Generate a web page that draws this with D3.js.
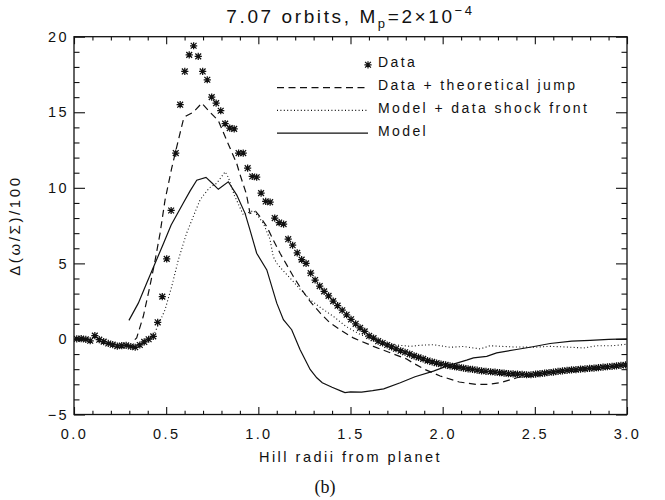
<!DOCTYPE html>
<html>
<head>
<meta charset="utf-8">
<script src="https://cdn.jsdelivr.net/npm/d3@7"></script>
<style>
  body { margin: 0; background: #fff; }
  svg text { font-family: "Liberation Sans", Arial, sans-serif; fill: #111; }
</style>
</head>
<body>
<svg id="chart" width="665" height="500"></svg>
<script>
// ---- Measured profile: asterisk samples ----
const dataX = [0.015,0.039,0.064,0.088,0.113,0.137,0.161,0.186,0.210,0.235,
  0.259,0.283,0.308,0.332,0.357,0.381,0.405,0.430,0.454,0.479,
  0.503,0.527,0.552,0.576,0.601,0.625,0.649,0.674,0.698,0.723,
  0.747,0.771,0.796,0.820,0.845,0.869,0.893,0.918,0.942,0.967,
  0.991,1.015,1.040,1.064,1.089,1.113,1.137,1.162,1.186,1.211,
  1.235,1.259,1.284,1.308,1.333,1.357,1.381,1.406,1.430,1.455,
  1.479,1.503,1.528,1.552,1.577,1.601,1.625,1.650,1.674,1.699,
  1.723,1.747,1.772,1.796,1.821,1.845,1.869,1.894,1.918,1.943,
  1.967,1.991,2.016,2.040,2.065,2.089,2.113,2.138,2.162,2.187,
  2.211,2.235,2.260,2.284,2.309,2.333,2.357,2.382,2.406,2.431,
  2.455,2.479,2.504,2.528,2.553,2.577,2.601,2.626,2.650,2.675,
  2.699,2.723,2.748,2.772,2.797,2.821,2.845,2.870,2.894,2.919,
  2.943,2.967,2.992];
const dataY = [0.0,0.02,-0.03,-0.12,0.22,-0.05,-0.18,-0.3,-0.38,-0.47,
  -0.44,-0.43,-0.5,-0.55,-0.4,-0.2,-0.02,0.17,1.1,2.8,
  5.3,8.5,12.3,15.5,17.7,18.8,19.4,18.7,17.7,17.15,
  16.0,15.6,15.1,14.25,13.95,13.9,12.3,12.3,11.3,10.75,
  10.7,9.65,9.1,9.05,8.0,7.7,7.6,6.6,6.2,5.7,
  5.25,5.0,4.35,3.9,3.5,3.15,2.85,2.5,2.2,1.9,
  1.6,1.3,1.0,0.73,0.5,0.2,0.05,-0.15,-0.27,-0.4,
  -0.53,-0.65,-0.78,-0.88,-1.0,-1.12,-1.22,-1.32,-1.43,-1.52,
  -1.6,-1.66,-1.72,-1.78,-1.83,-1.88,-1.93,-1.98,-2.02,-2.07,
  -2.11,-2.14,-2.17,-2.2,-2.23,-2.26,-2.29,-2.31,-2.33,-2.35,
  -2.37,-2.37,-2.33,-2.3,-2.26,-2.22,-2.19,-2.15,-2.11,-2.08,
  -2.05,-2.03,-2.0,-1.98,-1.95,-1.93,-1.9,-1.87,-1.84,-1.81,
  -1.78,-1.75,-1.72];

// ---- Data + theoretical jump (dashed) ----
const jumpX = [0.33,0.34,0.376,0.412,0.44,0.467,0.494,0.53,0.566,0.593,0.608,0.647,0.693,
  0.738,0.783,0.828,0.883,0.90,0.935,0.955,0.985,1.009,1.046,1.081,1.118,1.154,1.19,
  1.236,1.281,1.335,1.389,1.443,1.515,1.624,1.733,1.80,1.841,1.90,1.986,2.09,2.185,
  2.25,2.311,2.402,2.49,2.553,2.65,2.75,2.85,2.95,3.0];
const jumpY = [-0.05,0.07,1.5,3.5,5.2,7.0,9.2,11.3,13.15,14.5,14.75,15.0,15.6,
  15.0,14.45,13.15,11.6,10.9,9.6,8.3,8.45,8.1,7.43,6.55,5.67,4.9,4.13,
  3.25,2.48,1.72,1.06,0.61,0.07,-0.49,-1.0,-1.3,-1.6,-2.0,-2.45,-2.85,-3.01,
  -3.0,-2.9,-2.57,-2.37,-2.26,-2.11,-2.0,-1.9,-1.78,-1.72];

// ---- Model + data shock front (dotted) ----
const shockX = [0.43,0.46,0.494,0.53,0.566,0.611,0.657,0.684,0.702,0.735,0.774,0.82,
  0.837,0.87,0.919,0.945,0.973,1.0,1.027,1.063,1.081,1.1,1.136,1.181,1.226,1.281,
  1.335,1.407,1.479,1.552,1.642,1.733,1.823,1.877,1.95,2.04,2.113,2.203,2.257,2.383,
  2.49,2.583,2.7,2.763,2.836,2.92,3.0];
const shockY = [0.2,1.0,1.93,3.47,5.23,7.0,8.4,9.2,9.5,10.0,10.3,11.06,
  10.7,9.5,8.2,8.35,8.5,8.1,7.65,6.6,5.45,5.0,4.5,3.91,3.3,2.59,
  2.1,1.49,0.8,0.3,-0.1,-0.38,-0.49,-0.42,-0.38,-0.55,-0.5,-0.66,-0.45,-0.53,
  -0.55,-0.49,-0.55,-0.6,-0.45,-0.45,-0.35];

// ---- Model (solid) ----
const modelX = [0.298,0.349,0.394,0.44,0.486,0.527,0.557,0.593,0.63,0.666,0.716,0.75,
  0.783,0.837,0.883,0.928,0.955,0.991,1.046,1.1,1.136,1.181,1.226,1.281,1.317,1.347,
  1.40,1.45,1.47,1.50,1.56,1.62,1.68,1.77,1.85,1.95,2.022,2.13,2.167,2.239,2.293,
  2.40,2.474,2.583,2.7,2.8,2.9,3.0];
const modelY = [1.23,2.37,3.69,5.01,6.33,7.54,8.2,9.0,9.8,10.5,10.69,10.3,
  9.9,10.4,9.52,8.31,7.2,5.67,4.57,2.37,1.27,0.61,-0.7,-2.02,-2.57,-2.9,
  -3.2,-3.45,-3.55,-3.5,-3.52,-3.42,-3.3,-2.9,-2.5,-2.13,-1.8,-1.4,-1.25,-1.15,-0.92,
  -0.7,-0.55,-0.3,-0.15,-0.09,-0.03,0.0];

// ---- Axis ticks and labels ----
const xMajorTicks = [0, 0.5, 1.0, 1.5, 2.0, 2.5, 3.0];
const yMajorTicks = [-5, 0, 5, 10, 15, 20];
const legendLabels = ["Data", "Data + theoretical jump", "Model + data shock front", "Model"];

const svg = d3.select("#chart");
const plot = { left: 74, right: 627, top: 36.7, bottom: 414.5 };

const x = d3.scaleLinear().domain([0, 3]).range([plot.left, plot.right]);
const y = d3.scaleLinear().domain([-5, 20]).range([plot.bottom, plot.top]);

const xMinorTicks = d3.range(0, 3.0001, 0.1).filter(v => Math.abs(v / 0.5 - Math.round(v / 0.5)) > 1e-6);
const yMinorTicks = d3.range(-5, 20, 1).filter(v => v % 5 !== 0);

const ink = "#111";
const fmtY = d => d < 0 ? "\u2212" + Math.abs(d) : String(d);

function drawAxis(axis, tx, ty) {
  const g = svg.append("g").attr("transform", `translate(${tx},${ty})`).call(axis);
  g.select(".domain").remove();
  g.selectAll("line").attr("stroke", ink).attr("stroke-width", 1.1);
  g.selectAll("text").attr("font-size", 14.5).attr("letter-spacing", 2.4)
    .attr("fill", ink).style("font-family", '"Liberation Sans", Arial, sans-serif');
  return g;
}

// Bottom axis (labelled) and top axis, ticks pointing inwards
drawAxis(d3.axisBottom(x).tickValues(xMajorTicks).tickSize(-7.5).tickPadding(14.5)
  .tickFormat(d3.format(".1f")), 0, plot.bottom);
drawAxis(d3.axisBottom(x).tickValues(xMinorTicks).tickSize(-3.75).tickFormat(""), 0, plot.bottom);
drawAxis(d3.axisTop(x).tickValues(xMajorTicks).tickSize(-7.5).tickFormat(""), 0, plot.top);
drawAxis(d3.axisTop(x).tickValues(xMinorTicks).tickSize(-3.75).tickFormat(""), 0, plot.top);

// Left axis (labelled) and right axis
drawAxis(d3.axisLeft(y).tickValues(yMajorTicks).tickSize(-11).tickPadding(5).tickFormat(fmtY), plot.left, 0);
drawAxis(d3.axisLeft(y).tickValues(yMinorTicks).tickSize(-5.5).tickFormat(""), plot.left, 0);
drawAxis(d3.axisRight(y).tickValues(yMajorTicks).tickSize(-11).tickFormat(""), plot.right, 0);
drawAxis(d3.axisRight(y).tickValues(yMinorTicks).tickSize(-5.5).tickFormat(""), plot.right, 0);

// Plot frame
svg.append("rect")
  .attr("x", plot.left).attr("y", plot.top)
  .attr("width", plot.right - plot.left).attr("height", plot.bottom - plot.top)
  .attr("fill", "none").attr("stroke", ink).attr("stroke-width", 1.3);

// Curves
svg.append("clipPath").attr("id", "plotClip").append("rect")
  .attr("x", plot.left).attr("y", plot.top)
  .attr("width", plot.right - plot.left).attr("height", plot.bottom - plot.top);

const line = d3.line().x(d => x(d[0])).y(d => y(d[1]));
const curves = svg.append("g").attr("clip-path", "url(#plotClip)");

curves.append("path").datum(d3.zip(modelX, modelY)).attr("d", line)
  .attr("fill", "none").attr("stroke", ink).attr("stroke-width", 1.2);
curves.append("path").datum(d3.zip(jumpX, jumpY)).attr("d", line)
  .attr("fill", "none").attr("stroke", ink).attr("stroke-width", 1.2)
  .attr("stroke-dasharray", "7,4.5");
curves.append("path").datum(d3.zip(shockX, shockY)).attr("d", line)
  .attr("fill", "none").attr("stroke", ink).attr("stroke-width", 1.1)
  .attr("stroke-dasharray", "1,2.4");

// Asterisk symbol (plus and cross combined)
const star = "M-3.6,0H3.6M0,-3.6V3.6M-2.9,-2.9L2.9,2.9M-2.9,2.9L2.9,-2.9";
curves.append("g").selectAll("path").data(d3.zip(dataX, dataY)).join("path")
  .attr("transform", d => `translate(${x(d[0])},${y(d[1])})`)
  .attr("d", star).attr("fill", "none").attr("stroke", ink).attr("stroke-width", 1.25);

// Legend
const legend = svg.append("g");
const legStyles = [null, "7,4.5", "1,2.4", null];
legendLabels.forEach((lab, i) => {
  const base = 67.3 + 22.8 * i;
  if (i === 0) {
    legend.append("path").attr("transform", `translate(368,${base - 2.5})`)
      .attr("d", star).attr("fill", "none").attr("stroke", ink).attr("stroke-width", 1.2);
  } else {
    const l = legend.append("line").attr("x1", 277).attr("x2", 368)
      .attr("y1", base - 2.5).attr("y2", base - 2.5)
      .attr("stroke", ink).attr("stroke-width", 1.2);
    if (legStyles[i]) l.attr("stroke-dasharray", legStyles[i]);
  }
  legend.append("text").attr("x", 378).attr("y", base)
    .attr("font-size", 14).attr("letter-spacing", 2.4).text(lab);
});

// Title with subscript and superscript
const title = svg.append("text").attr("x", (plot.left + plot.right) / 2).attr("y", 23)
  .attr("text-anchor", "middle").attr("font-size", 19).attr("letter-spacing", 2.6);
title.append("tspan").text("7.07 orbits, M");
title.append("tspan").attr("dy", 5).attr("font-size", 13).text("p");
title.append("tspan").attr("dy", -5).text("=2\u00d710");
title.append("tspan").attr("dy", -8).attr("font-size", 13).text("\u22124");

// Axis titles
svg.append("text").attr("x", (plot.left + plot.right) / 2).attr("y", 462)
  .attr("text-anchor", "middle").attr("font-size", 14.5).attr("letter-spacing", 2.5)
  .text("Hill radii from planet");
svg.append("text").attr("transform", `translate(20,${(plot.top + plot.bottom) / 2}) rotate(-90)`)
  .attr("text-anchor", "middle").attr("font-size", 15).attr("letter-spacing", 2.6)
  .text("\u0394(\u03c9/\u03a3)/100");

// Panel tag
svg.append("text").attr("x", 325).attr("y", 493).attr("text-anchor", "middle")
  .attr("font-size", 18).style("font-family", '"Liberation Serif", "Times New Roman", serif')
  .text("(b)");
</script>
</body>
</html>
